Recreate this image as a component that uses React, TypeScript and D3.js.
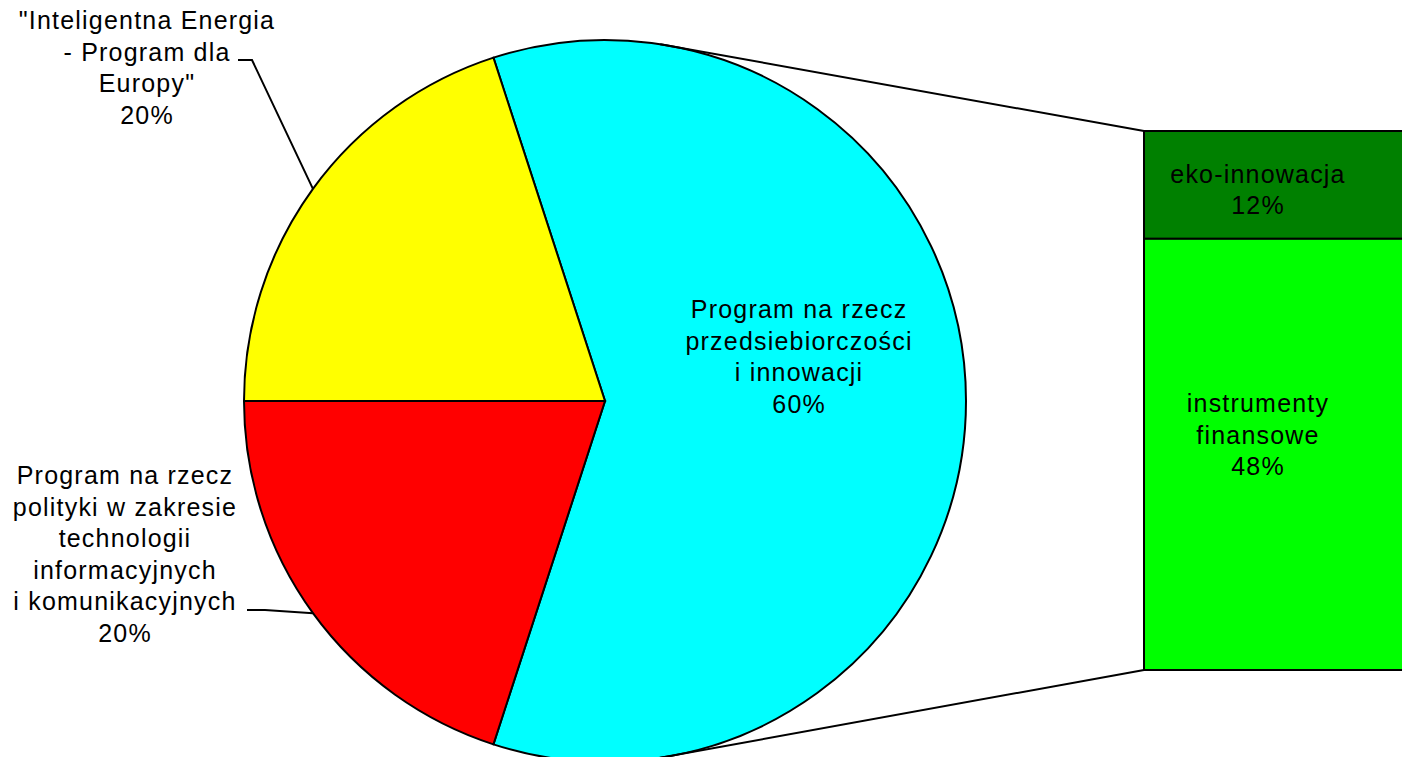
import React from 'react';
import * as d3 from 'd3';

const pieLabels = [
  ['Program na rzecz', 'przedsiebiorczości', 'i innowacji'],
  ['Program na rzecz', 'polityki w zakresie', 'technologii', 'informacyjnych', 'i komunikacyjnych'],
  ['"Inteligentna Energia', '- Program dla', 'Europy"'],
];
const pieValues = [60, 20, 20];
const pieColors = ['#00ffff', '#ff0000', '#ffff00'];

const barLabels = [['eko-innowacja'], ['instrumenty', 'finansowe']];
const barValues = [12, 48];
const barColors = ['#008000', '#00ff00'];

const W = 1402;
const H = 757;
const cx = 605;
const cy = 401;
const R = 361;
const FONT = { fontFamily: '"Liberation Sans", Arial, sans-serif', fontSize: 25, letterSpacing: 1.2 };
const LH = 31.5;
const SW = 2;

const toXY = (a: number, r: number): [number, number] => [cx + r * Math.sin(a), cy - r * Math.cos(a)];

const Lines = ({ x, y, lines }: { x: number; y: number; lines: string[] }) => (
  <text x={x} y={y} textAnchor="middle" {...FONT} fill="#000">
    {lines.map((l, i) => (
      <tspan key={i} x={x} dy={i === 0 ? 0 : LH}>
        {l}
      </tspan>
    ))}
  </text>
);

export default function App() {
  const start = -Math.PI / 10;
  const arcs = d3
    .pie<number>()
    .value(d => d)
    .sort(null)
    .startAngle(start)
    .endAngle(start + 2 * Math.PI)(pieValues);
  const arc = d3.arc<d3.PieArcDatum<number>>().innerRadius(0).outerRadius(R);

  const total = d3.sum(pieValues);
  const pct = (v: number) => `${Math.round((v / total) * 100)}%`;

  // bar of the split slice
  const barX = 1144;
  const barW = 300;
  const y = d3.scaleLinear().domain([0, d3.sum(barValues)]).range([131, 670]);
  const stacked = barValues.map((v, i) => ({ v, y0: d3.sum(barValues.slice(0, i)), y1: d3.sum(barValues.slice(0, i + 1)) }));

  // connector lines
  const conA = (8.8 * Math.PI) / 180;
  const top = toXY(conA, R);
  const bot = toXY(Math.PI - conA, R);

  const mid = (a: d3.PieArcDatum<number>) => (a.startAngle + a.endAngle) / 2;

  // label placement: inside for the big slice, outside with leaders for the others
  const inner = toXY(mid(arcs[0]), R * 0.546);
  const outside = [
    null,
    { x: 125, y: 484, elbow: [247, 265, 610] },
    { x: 147, y: 29, elbow: [238, 252, 60] },
  ];

  return (
    <svg width={W} height={H} style={{ position: 'absolute', left: 0, top: 0, background: '#fff' }}>
      <g>
        {arcs.map((a, i) => (
          <path
            key={i}
            d={arc(a) as string}
            transform={`translate(${cx},${cy})`}
            fill={pieColors[i]}
            stroke="#000"
            strokeWidth={SW}
          />
        ))}
      </g>
      <line x1={top[0]} y1={top[1]} x2={barX} y2={y(0)} stroke="#000" strokeWidth={SW} />
      <line x1={bot[0]} y1={bot[1]} x2={barX} y2={y(d3.sum(barValues))} stroke="#000" strokeWidth={SW} />
      {stacked.map((s, i) => (
        <rect
          key={i}
          x={barX}
          y={y(s.y0)}
          width={barW}
          height={y(s.y1) - y(s.y0)}
          fill={barColors[i]}
          stroke="#000"
          strokeWidth={SW}
        />
      ))}
      {stacked.map((s, i) => {
        const lines = [...barLabels[i], pct(s.v)];
        const m = (y(s.y0) + y(s.y1)) / 2;
        const y0 = i === 0 ? m - 2 : m - 42;
        return <Lines key={i} x={barX + 114} y={y0} lines={lines} />;
      })}
      <Lines x={inner[0] - 3} y={318} lines={[...pieLabels[0], pct(pieValues[0])]} />
      {arcs.map((a, i) => {
        const o = outside[i];
        if (!o) return null;
        const p = toXY(mid(a), R);
        const [x0, x1, ly] = o.elbow;
        return (
          <g key={i}>
            <path d={`M${x0},${ly}L${x1},${ly}L${p[0]},${p[1]}`} fill="none" stroke="#000" strokeWidth={SW} />
            <Lines x={o.x} y={o.y} lines={[...pieLabels[i], pct(a.value)]} />
          </g>
        );
      })}
    </svg>
  );
}
